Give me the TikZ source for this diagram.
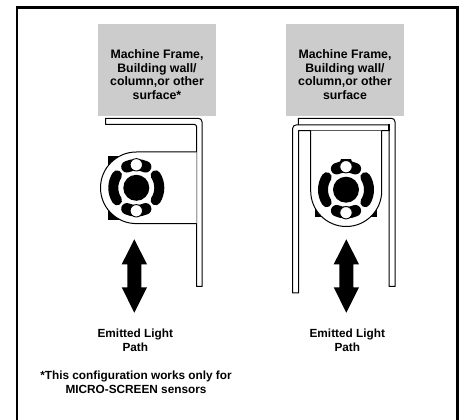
\documentclass[tikz,border=0pt]{standalone}
\usepackage{fontspec}
\setmainfont{Liberation Sans}
\begin{document}
\begin{tikzpicture}[x=1pt,y=-1pt,
  lab/.style={font=\fontsize{11.8}{14}\selectfont\bfseries,align=center,anchor=south,inner sep=0pt,text depth=0pt},
  walllab/.style={lab,font=\fontsize{12.3}{14}\selectfont\bfseries},
  wall/.style={fill=black!20,draw=none},
  plate/.style={line width=1pt,draw=black,fill=none,line join=round},
  slotA/.style={line width=11.5pt,draw=black,line cap=round},
  slotB/.style={line width=10pt,draw=black,line cap=round},
  hole/.style={fill=white,draw=black,line width=0.9pt}]
\useasboundingbox (0,0) rectangle (459,420);
\clip (0,0) rectangle (459,420);
% outer frame (open at the bottom edge)
\draw[line width=2.8pt,line cap=butt,miter limit=10] (17,425) -- (17,7.6) -- (457.5,7.6) -- (457.5,425);
% --- left mounting ---
\fill[wall] (98,24) rectangle (216,116);
\node[walllab] (wallL) at (157,100.2) {Machine Frame,\\Building wall/\\column,or other\\surface*};
\draw[plate] (105.5,124.3) -- (105.5,118.3) -- (198.5,118.3) arc[start angle=-90,end angle=0,radius=3.5] -- (202,286.5) -- (196.7,286.5) -- (196.7,127) arc[start angle=0,end angle=-90,radius=2.7] -- cycle;
\fill[black] (107.5,156) rectangle (125,220);
\draw[line width=1pt,fill=white] (196.7,152) -- (136.3,152) arc[start angle=-90,end angle=-270,radius=35.8] -- (196.7,223.6);
\begin{scope}[shift={(136.3,187.8)}]
  \fill[black] (0,0) circle[radius=13];
  \draw[slotA] (-66:23) arc[start angle=-66,end angle=-114,radius=23];
  \draw[slotA] (66:23) arc[start angle=66,end angle=114,radius=23];
  \draw[slotB] (-33:23) arc[start angle=-33,end angle=33,radius=23];
  \draw[slotB] (147:23) arc[start angle=147,end angle=213,radius=23];
  \draw[hole] (0,-23) circle[radius=6.2];
  \draw[hole] (0,23) circle[radius=6.2];
\end{scope}
\fill[black] (134.3,239.3) -- (147,264.3) -- (141.3,264.3) -- (141.3,287.3) -- (147,287.3) -- (134.3,312.7) -- (121.7,287.3) -- (127.3,287.3) -- (127.3,264.3) -- (121.7,264.3) -- cycle;
\node[lab] (pathL) at (135.3,352) {Emitted Light\\Path};
\node[lab] (note) at (136,393.5) {*This configuration works only for\\MICRO-SCREEN sensors};
% --- right mounting ---
\fill[wall] (286,24) rectangle (404,116);
\node[walllab] (wallR) at (345,100.2) {Machine Frame,\\Building wall/\\column,or other\\surface};
\draw[plate] (298.3,125) -- (298.3,118.3) -- (391.5,118.3) arc[start angle=-90,end angle=0,radius=3.5] -- (395,286.5) -- (389,286.5) -- (389,124.3);
\draw[plate] (389,125) -- (296,125) arc[start angle=-90,end angle=-180,radius=3.3] -- (292.7,293) -- (298.5,293) -- (298.5,130.7) -- (389,130.7);
\draw[line width=1.6pt] (389,124.3) -- (389,131);
\fill[black] (315,195) rectangle (377,216.8);
\draw[line width=1pt,fill=white] (310.7,130.7) -- (310.7,191) arc[start angle=180,end angle=0,radius=35.5] -- (381.7,130.7);
\begin{scope}[shift={(346,189.7)}]
  \fill[black] (0,0) circle[radius=13];
  \fill[black] (-8,-23) -- (-5,-30.5) -- (5,-30.5) -- (8,-23) -- cycle;
  \draw[slotA] (-66:23) arc[start angle=-66,end angle=-114,radius=23];
  \draw[slotA] (66:23) arc[start angle=66,end angle=114,radius=23];
  \draw[slotB] (-33:23) arc[start angle=-33,end angle=33,radius=23];
  \draw[slotB] (147:23) arc[start angle=147,end angle=213,radius=23];
  \draw[hole] (0,-23) circle[radius=6.2];
  \draw[hole] (0,23) circle[radius=6.2];
\end{scope}
\fill[black] (346.3,239.3) -- (359,264.3) -- (353.3,264.3) -- (353.3,287.3) -- (359,287.3) -- (346.3,312.7) -- (333.7,287.3) -- (339.3,287.3) -- (339.3,264.3) -- (333.7,264.3) -- cycle;
\node[lab] (pathR) at (347.3,352) {Emitted Light\\Path};
\end{tikzpicture}
\end{document}
